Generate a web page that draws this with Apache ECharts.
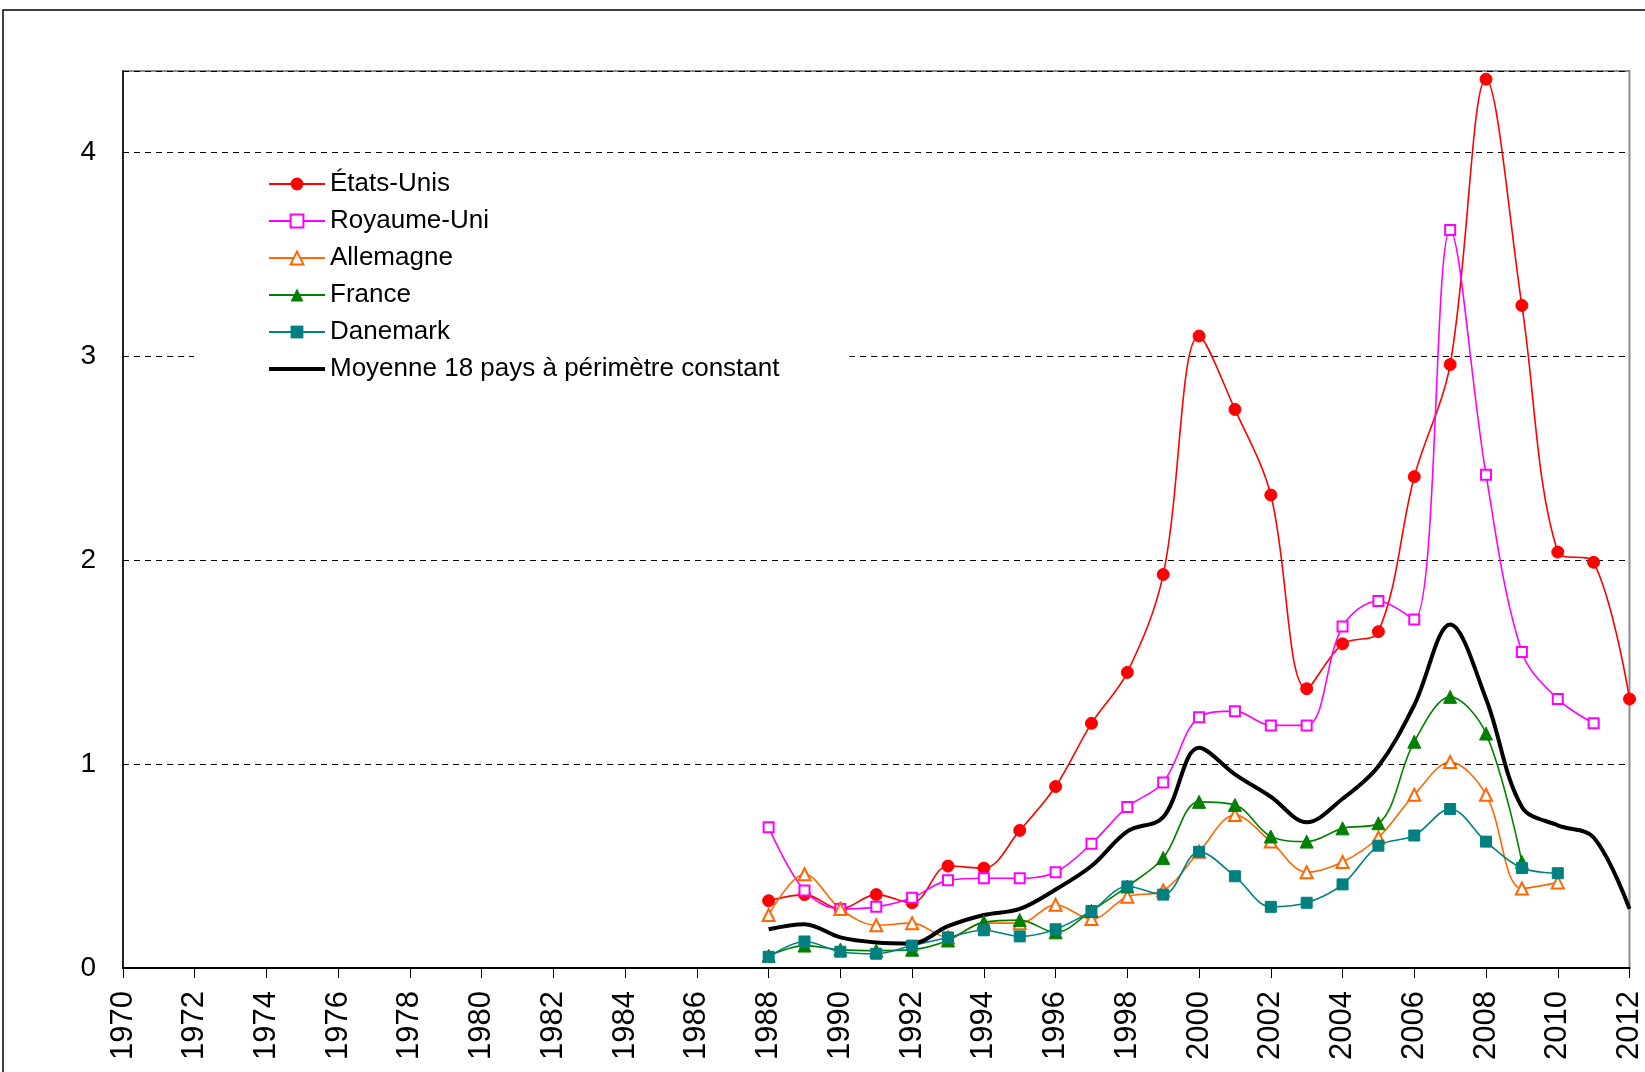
<!DOCTYPE html>
<html>
<head>
<meta charset="utf-8">
<script src="https://cdn.jsdelivr.net/npm/echarts@6/dist/echarts.min.js"></script>
<style>
html,body{margin:0;padding:0;background:#fff;}
#chart{width:1645px;height:1072px;}
</style>
</head>
<body>
<div id="chart"></div>
<script>
const years = [1988,1989,1990,1991,1992,1993,1994,1995,1996,1997,1998,1999,2000,2001,2002,2003,2004,2005,2006,2007,2008,2009,2010,2011,2012];
const etatsUnis = [0.33,0.36,0.29,0.36,0.32,0.50,0.49,0.675,0.89,1.20,1.45,1.93,3.10,2.74,2.32,1.37,1.59,1.65,2.41,2.96,4.36,3.25,2.04,1.99,1.32];
const royaumeUni = [0.69,0.38,0.29,0.30,0.345,0.43,0.44,0.44,0.47,0.61,0.79,0.91,1.23,1.26,1.19,1.19,1.675,1.80,1.71,3.62,2.42,1.55,1.32,1.20];
const allemagne = [0.26,0.46,0.29,0.21,0.22,0.15,0.22,0.22,0.31,0.24,0.35,0.38,0.57,0.75,0.62,0.47,0.52,0.64,0.85,1.01,0.85,0.39,0.42];
const france = [0.06,0.11,0.09,0.085,0.09,0.135,0.225,0.235,0.175,0.28,0.40,0.54,0.815,0.80,0.645,0.62,0.685,0.71,1.11,1.33,1.15,0.52];
const danemark = [0.055,0.13,0.08,0.07,0.11,0.15,0.185,0.155,0.19,0.28,0.40,0.36,0.57,0.45,0.30,0.32,0.41,0.60,0.65,0.78,0.62,0.49,0.465];
const moyenne = [0.19,0.215,0.15,0.125,0.12,0.205,0.26,0.29,0.385,0.50,0.67,0.74,1.08,0.95,0.84,0.715,0.83,0.99,1.29,1.685,1.32,0.79,0.70,0.64,0.29];
const seriesNames = ['États-Unis','Royaume-Uni','Allemagne','France','Danemark','Moyenne 18 pays à périmètre constant'];
const xMin = 1970, xMax = 2012, xStep = 2;
const yMin = 0, yMax = 4.4, yStep = 1;

function pairs(vals){ return vals.map((v,i)=>[years[i], v]); }

const FONT = '"Liberation Sans", Arial, sans-serif';
const chart = echarts.init(document.getElementById('chart'), null, {renderer:'canvas'});

function lineSeries(name, vals, color, symbol, size, width){
  return {
    name: name, type: 'line', data: pairs(vals),
    smooth: 0.35,
    symbol: symbol, symbolSize: size, showSymbol: symbol !== 'none',
    lineStyle: {color: color, width: width},
    itemStyle: {color: color, borderColor: color},
    emphasis: {disabled: true},
    animation: false
  };
}

const legendData = seriesNames.map((n, i) => i === 5
  ? {name: n, itemStyle: {color: 'rgba(0,0,0,0)', borderColor: 'rgba(0,0,0,0)', opacity: 0}, lineStyle: {width: 4, color: '#000'}}
  : {name: n});

chart.setOption({
  backgroundColor: '#fff',
  animation: false,
  grid: {left: 123, right: 10, top: 71, bottom: 104, show: true, borderColor: '#8c8c8c', borderWidth: 2, backgroundColor: 'transparent'},
  graphic: [{type:'rect', shape:{x:3, y:10, width:3000, height:3000}, style:{fill:'none', stroke:'#000', lineWidth:1.5}, silent:true, z:-10}],
  legend: {
    orient: 'vertical', left: 194, top: 165,
    backgroundColor: '#fff',
    padding: [6, 70, 8, 73],
    itemWidth: 56, itemHeight: 16, itemGap: 11,
    data: legendData,
    textStyle: {fontFamily: FONT, fontSize: 26, color: '#000', lineHeight: 24},
    z: 20
  },
  xAxis: {
    type: 'value', min: xMin, max: xMax, interval: xStep,
    axisLine: {show: true, onZero: false, lineStyle: {color: '#000', width: 2}},
    axisTick: {show: true, length: 10, lineStyle: {color: '#000', width: 1}},
    splitLine: {show: false},
    axisLabel: {rotate: 90, margin: 23, fontFamily: FONT, fontSize: 31, color: '#000', formatter: v => String(v)}
  },
  yAxis: {
    type: 'value', min: yMin, max: yMax, interval: yStep,
    axisLine: {show: true, lineStyle: {color: '#000', width: 1.5}},
    axisTick: {show: false},
    splitLine: {show: true, lineStyle: {color: '#000', type: [6, 5], width: 1}},
    axisLabel: {margin: 27, fontFamily: FONT, fontSize: 28, color: '#000',
      formatter: v => (Math.abs(v - Math.round(v)) < 1e-9 ? String(Math.round(v)) : '')}
  },
  series: [
    lineSeries(seriesNames[0], etatsUnis, '#ff0000', 'circle', 12, 1.6),
    lineSeries(seriesNames[1], royaumeUni, '#ff00ff', 'emptyRect', 10, 1.6),
    lineSeries(seriesNames[2], allemagne, '#ff6600', 'emptyTriangle', 12, 1.6),
    lineSeries(seriesNames[3], france, '#008000', 'triangle', 13, 1.6),
    lineSeries(seriesNames[4], danemark, '#008080', 'rect', 11, 1.6),
    lineSeries(seriesNames[5], moyenne, '#000000', 'none', 0, 4)
  ]
});
</script>
</body>
</html>
